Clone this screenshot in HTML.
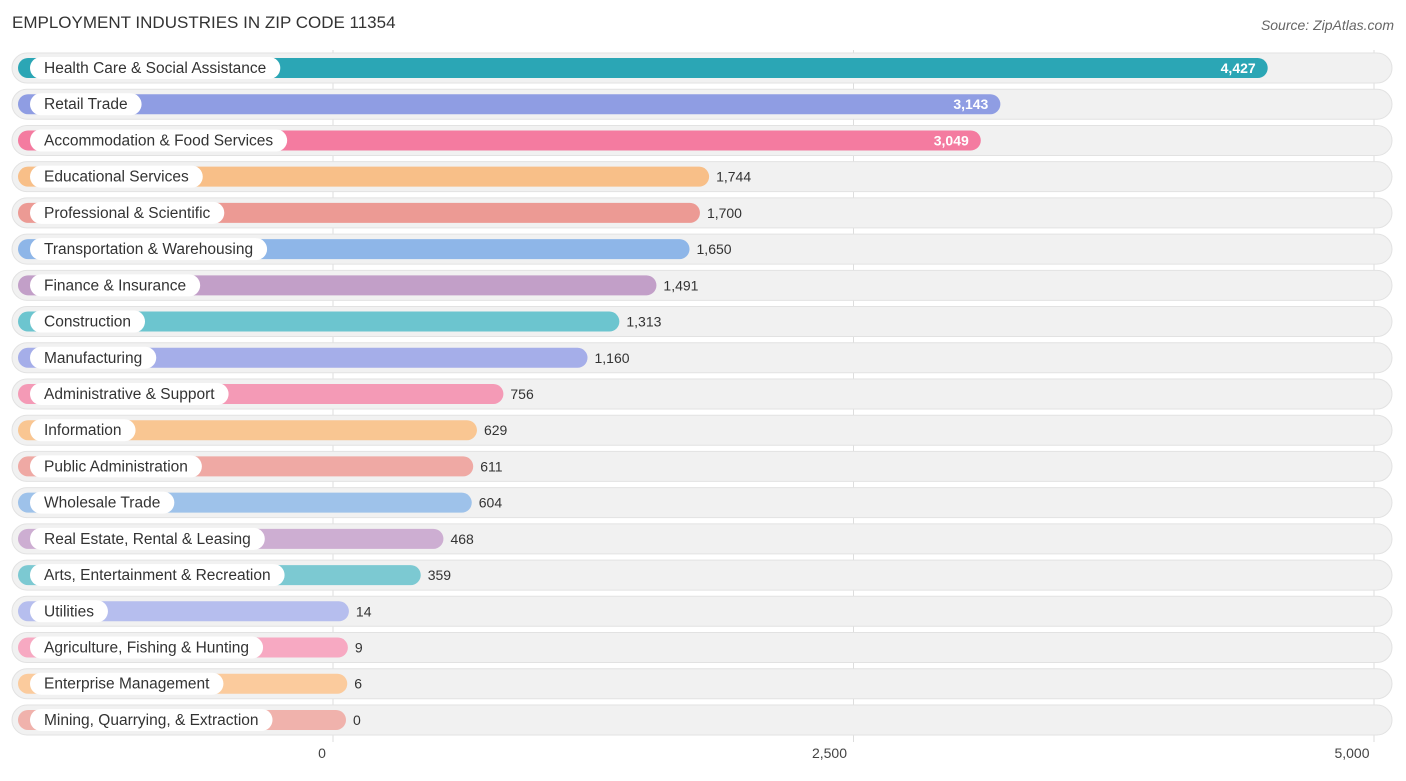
<!DOCTYPE html>
<html><head><meta charset="utf-8"><style>
body{margin:0;background:#fff;font-family:"Liberation Sans",sans-serif;}
svg text{font-family:"Liberation Sans",sans-serif;}
</style></head><body>
<svg width="1406" height="776">
<text x="12" y="28" font-size="17" fill="#333">EMPLOYMENT INDUSTRIES IN ZIP CODE 11354</text>
<text x="1394" y="30" font-size="14" fill="#666" font-style="italic" text-anchor="end">Source: ZipAtlas.com</text>
<g id="grid"></g><g id="rows"></g><g id="ticks"></g>
</svg>
<script>
const categories=["Health Care & Social Assistance","Retail Trade","Accommodation & Food Services","Educational Services","Professional & Scientific","Transportation & Warehousing","Finance & Insurance","Construction","Manufacturing","Administrative & Support","Information","Public Administration","Wholesale Trade","Real Estate, Rental & Leasing","Arts, Entertainment & Recreation","Utilities","Agriculture, Fishing & Hunting","Enterprise Management","Mining, Quarrying, & Extraction"];
const values=[4427,3143,3049,1744,1700,1650,1491,1313,1160,756,629,611,604,468,359,14,9,6,0];
const tickValues=[0,2500,5000];
const tickLabels=["0","2,500","5,000"];
const colors=["#2ba6b5","#8f9de3","#f47ba0","#f8bf88","#ec9a94","#8eb6e8","#c29fc8","#6cc5cf","#a5aee9","#f49ab6","#f9c692","#efa9a4","#9ec2ea","#cdaed2","#7cc9d2","#b6beee","#f7a9c2","#fbcb9d","#f0b2ac"];
const NS="http://www.w3.org/2000/svg";
function x(v){return 333+v*(1374-333)/5000;}
function y(i){return 68+i*36.22;}
function mk(t,a,p){const e=document.createElementNS(NS,t);for(const k in a)e.setAttribute(k,a[k]);p.appendChild(e);return e;}
const grid=document.getElementById('grid'),rows=document.getElementById('rows'),ticks=document.getElementById('ticks');
tickValues.forEach((t,i)=>{
 const l=mk('line',{x1:x(t),x2:x(t),y1:50,y2:742,stroke:'#ddd','stroke-width':1},grid);
 
 
 const tx=mk('text',{x:x(t)-(i==0?11:i==2?22:24),y:758,'font-size':14,fill:'#444','text-anchor':'middle'},ticks);
 tx.textContent=tickLabels[i];
 
 
});
categories.forEach((c,i)=>{
 const cy=y(i);
 const g=mk('g',{},rows);
 
 
 const bg=mk('rect',{x:12,y:cy-15,width:1380,height:30,rx:15,fill:'#f1f1f1',stroke:'#e2e2e2','stroke-width':1},g);
 
 
 const end=x(values[i])+13;
 const b=mk('rect',{x:18,y:cy-10,width:end-18,height:20,rx:10,fill:colors[i]},g);
 
 
 const lp=mk('rect',{x:30,y:cy-11,width:100,height:22,rx:11,fill:'#fff'},g);
 
 
 const lt=mk('text',{x:44,y:cy+5,'font-size':15.5,fill:'#333'},g);
 lt.textContent=c;
 
 
 lp.setAttribute('width',lt.getComputedTextLength()+28);
 const inside=i<3;
 const vt=mk('text',{x:inside?end-12:end+7,y:cy+5,'font-size':14,fill:inside?'#fff':'#333','text-anchor':inside?'end':'start','font-weight':inside?'bold':'normal'},g);
 vt.textContent=values[i].toLocaleString('en-US');
 
 
});
</script>
</body></html>
